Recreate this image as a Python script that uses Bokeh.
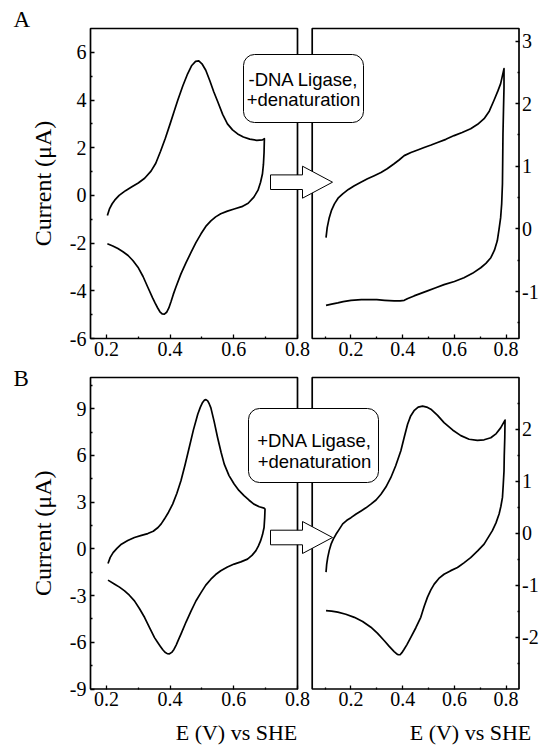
import math
from bokeh.plotting import figure
from bokeh.models import (Range1d, LinearAxis, FixedTicker, BoxAnnotation,
                          Label, PolyAnnotation)
from bokeh.embed import file_html
from bokeh.resources import INLINE

# ---------------- data ----------------
A_LEFT_X = [0.203, 0.210, 0.218, 0.226, 0.240, 0.260, 0.280, 0.300, 0.320, 0.340,
            0.355, 0.370, 0.385, 0.400, 0.412, 0.424, 0.440, 0.455, 0.468, 0.480,
            0.490, 0.500, 0.512, 0.525, 0.537, 0.549, 0.565, 0.580, 0.596, 0.612,
            0.630, 0.650, 0.672, 0.690, 0.696,
            0.695, 0.693, 0.690, 0.684, 0.676, 0.663, 0.645, 0.625, 0.601, 0.580,
            0.559, 0.543, 0.528, 0.512, 0.497, 0.481, 0.466, 0.450, 0.434, 0.418,
            0.410, 0.403, 0.396, 0.389, 0.382, 0.375, 0.368, 0.361, 0.353, 0.345,
            0.330, 0.315, 0.299, 0.283, 0.268, 0.252, 0.236, 0.220, 0.203]
A_LEFT_Y = [-0.84, -0.55, -0.35, -0.20, 0.00, 0.20, 0.36, 0.52, 0.72, 1.02,
            1.35, 1.85, 2.40, 3.00, 3.50, 3.99, 4.60, 5.10, 5.45, 5.62,
            5.64, 5.52, 5.25, 4.80, 4.35, 3.95, 3.40, 3.00, 2.75, 2.58,
            2.45, 2.36, 2.31, 2.33, 2.38,
            1.80, 1.30, 0.91, 0.55, 0.22, -0.07, -0.33, -0.47, -0.57, -0.66,
            -0.77, -0.90, -1.07, -1.30, -1.61, -1.98, -2.38, -2.82, -3.29, -3.85,
            -4.15, -4.45, -4.72, -4.90, -4.98, -4.97, -4.88, -4.72, -4.52, -4.30,
            -3.85, -3.40, -3.01, -2.73, -2.52, -2.36, -2.23, -2.12, -2.03]

A_RIGHT_X = [0.1035, 0.108, 0.116, 0.125, 0.136, 0.150, 0.168, 0.190, 0.213, 0.240,
             0.264, 0.290, 0.316, 0.340, 0.367, 0.386, 0.406, 0.432, 0.458, 0.483,
             0.510, 0.535, 0.567, 0.599, 0.630, 0.663, 0.690, 0.715, 0.735, 0.753,
             0.768, 0.779, 0.792,
             0.792, 0.790, 0.788, 0.787, 0.786, 0.783, 0.779, 0.773, 0.766, 0.755,
             0.741, 0.722, 0.702, 0.670, 0.637, 0.600, 0.560, 0.528, 0.496, 0.470,
             0.444, 0.420, 0.406, 0.390, 0.367, 0.330, 0.300, 0.277, 0.240, 0.200,
             0.170, 0.149, 0.125, 0.1035]
A_RIGHT_Y = [-0.14, 0.02, 0.18, 0.30, 0.40, 0.49, 0.56, 0.63, 0.69, 0.75,
             0.80, 0.85, 0.90, 0.96, 1.04, 1.10, 1.17, 1.22, 1.26, 1.30,
             1.34, 1.38, 1.43, 1.49, 1.54, 1.60, 1.67, 1.76, 1.88, 2.05,
             2.20, 2.32, 2.56,
             2.26, 1.90, 1.52, 1.10, 0.72, 0.40, 0.18, 0.00, -0.19, -0.34,
             -0.46, -0.55, -0.62, -0.71, -0.78, -0.84, -0.89, -0.94, -0.99, -1.03,
             -1.07, -1.11, -1.14, -1.15, -1.15, -1.14, -1.13, -1.13, -1.13, -1.14,
             -1.16, -1.18, -1.20, -1.22]

B_LEFT_X = [0.205, 0.212, 0.221, 0.233, 0.247, 0.267, 0.288, 0.310, 0.330, 0.347,
            0.362, 0.372, 0.382, 0.395, 0.408, 0.421, 0.434, 0.447, 0.460, 0.473,
            0.487, 0.495, 0.502, 0.508, 0.5125, 0.518, 0.523, 0.528, 0.538, 0.549,
            0.560, 0.570, 0.585, 0.601, 0.616, 0.632, 0.648, 0.663, 0.680, 0.695,
            0.698,
            0.697, 0.695, 0.690, 0.684, 0.677, 0.669, 0.657, 0.643, 0.622, 0.601,
            0.580, 0.559, 0.543, 0.528, 0.512, 0.497, 0.481, 0.466, 0.450, 0.434,
            0.426, 0.419, 0.412, 0.405, 0.398, 0.391, 0.384, 0.377, 0.369, 0.360,
            0.351, 0.335, 0.320, 0.304, 0.288, 0.272, 0.257, 0.241, 0.226, 0.205]
B_LEFT_Y = [-0.94, -0.55, -0.24, 0.03, 0.30, 0.53, 0.73, 0.86, 0.98, 1.13,
            1.37, 1.60, 1.91, 2.35, 2.87, 3.55, 4.37, 5.40, 6.51, 7.62,
            8.66, 9.10, 9.40, 9.55, 9.58, 9.50, 9.30, 9.05, 8.20, 7.15,
            6.20, 5.44, 4.70, 4.16, 3.75, 3.41, 3.12, 2.87, 2.70, 2.61,
            2.55,
            2.00, 1.37, 0.90, 0.51, 0.17, -0.13, -0.42, -0.66, -0.84, -0.98,
            -1.17, -1.41, -1.65, -1.95, -2.33, -2.81, -3.35, -3.98, -4.70, -5.48,
            -5.85, -6.18, -6.46, -6.65, -6.74, -6.73, -6.64, -6.48, -6.25, -5.98,
            -5.70, -5.05, -4.41, -3.85, -3.34, -2.98, -2.70, -2.46, -2.27, -2.01]

B_RIGHT_X = [0.1035, 0.106, 0.110, 0.116, 0.123, 0.132, 0.142, 0.155, 0.168, 0.184,
             0.200, 0.220, 0.239, 0.258, 0.277, 0.297, 0.316, 0.335, 0.354, 0.373,
             0.393, 0.406, 0.419, 0.431, 0.444, 0.460, 0.477, 0.493, 0.509, 0.535,
             0.560, 0.593, 0.625, 0.657, 0.689, 0.715, 0.741, 0.762, 0.779, 0.796,
             0.795, 0.793, 0.792, 0.789, 0.786, 0.780, 0.773, 0.761, 0.747, 0.731,
             0.715, 0.690, 0.663, 0.637, 0.612, 0.586, 0.560, 0.540, 0.522, 0.509,
             0.496, 0.483, 0.470, 0.451, 0.432, 0.416, 0.405, 0.397, 0.390, 0.383,
             0.376, 0.367, 0.348, 0.329, 0.303, 0.277, 0.245, 0.213, 0.180, 0.149,
             0.125, 0.1035]
B_RIGHT_Y = [-0.75, -0.60, -0.47, -0.33, -0.21, -0.11, -0.02, 0.08, 0.18, 0.25,
             0.30, 0.37, 0.43, 0.49, 0.56, 0.64, 0.75, 0.89, 1.07, 1.30,
             1.59, 1.85, 2.10, 2.26, 2.36, 2.43, 2.45, 2.43, 2.39, 2.27,
             2.13, 1.99, 1.88, 1.81, 1.79, 1.80, 1.84, 1.92, 2.03, 2.18,
             1.84, 1.50, 1.20, 0.93, 0.69, 0.52, 0.37, 0.20, 0.05, -0.08,
             -0.21, -0.34, -0.47, -0.57, -0.66, -0.72, -0.79, -0.87, -0.98, -1.09,
             -1.23, -1.41, -1.62, -1.82, -2.00, -2.15, -2.24, -2.30, -2.34, -2.34,
             -2.32, -2.28, -2.18, -2.07, -1.93, -1.81, -1.70, -1.62, -1.56, -1.52,
             -1.50, -1.49]

# axis limits
XL_LIM = (0.15, 0.8)
XR_LIM = (0.05, 0.85)
YAL_LIM = (-6, 7)
YAR_LIM = (-1.75, 3.2)
YBL_LIM = (-9, 11)
YBR_LIM = (-3, 3)

# ticks and tick labels
XL_TICKS = [0.2, 0.4, 0.6, 0.8]
XL_LABELS = ["0.2", "0.4", "0.6", "0.8"]
XL_MINOR = [0.3, 0.5, 0.7]
XR_TICKS = [0.2, 0.4, 0.6, 0.8]
XR_LABELS = ["0.2", "0.4", "0.6", "0.8"]
XR_MINOR = [0.1, 0.3, 0.5, 0.7]
YAL_TICKS = [-6, -4, -2, 0, 2, 4, 6]
YAL_LABELS = ["-6", "-4", "-2", "0", "2", "4", "6"]
YAL_MINOR = [-5, -3, -1, 1, 3, 5]
YAR_TICKS = [-1, 0, 1, 2, 3]
YAR_LABELS = ["-1", "0", "1", "2", "3"]
YAR_MINOR = [-1.5, -0.5, 0.5, 1.5, 2.5]
YBL_TICKS = [-9, -6, -3, 0, 3, 6, 9]
YBL_LABELS = ["-9", "-6", "-3", "0", "3", "6", "9"]
YBL_MINOR = [-7.5, -4.5, -1.5, 1.5, 4.5, 7.5, 10.5]
YBR_TICKS = [-2, -1, 0, 1, 2]
YBR_LABELS = ["-2", "-1", "0", "1", "2"]
YBR_MINOR = [-2.5, -1.5, -0.5, 0.5, 1.5, 2.5]

PANEL_LETTERS = ["A", "B"]
BOX_TEXTS = [["-DNA Ligase,", "+denaturation"], ["+DNA Ligase,", "+denaturation"]]
Y_TITLE = "Current (\u03bcA)"
X_TITLE = "E (V) vs SHE"

# ---------------- layout (page pixels) ----------------
W, H = 541, 745
FX0, FX1 = 0, W          # page x of canvas left/right
FY0, FY1 = H, 0          # page y of canvas bottom/top

PX_LEFT = (90, 297)
PX_RIGHT = (311.7, 518.5)
PY_A = (338, 28)
PY_B = (688.5, 377)

SERIF = "Liberation Serif"
SANS = "Liberation Sans"
TXT_DY = -7   # baseline correction for labels


def mapped_range(lim, pix, f0, f1):
    k = (lim[1] - lim[0]) / (pix[1] - pix[0])
    return Range1d(start=lim[0] + (f0 - pix[0]) * k, end=lim[0] + (f1 - pix[0]) * k)


p = figure(width=W, height=H, x_range=Range1d(FX0, FX1), y_range=Range1d(FY0, FY1),
           x_axis_type=None, y_axis_type=None, min_border=0,
           toolbar_location=None, output_backend="svg")
p.outline_line_color = None
p.background_fill_color = "white"
p.border_fill_color = "white"

p.extra_x_ranges = {
    "xl": mapped_range(XL_LIM, PX_LEFT, FX0, FX1),
    "xr": mapped_range(XR_LIM, PX_RIGHT, FX0, FX1),
}
p.extra_y_ranges = {
    "yal": mapped_range(YAL_LIM, PY_A, FY0, FY1),
    "yar": mapped_range(YAR_LIM, PY_A, FY0, FY1),
    "ybl": mapped_range(YBL_LIM, PY_B, FY0, FY1),
    "ybr": mapped_range(YBR_LIM, PY_B, FY0, FY1),
}

AX_STYLE = dict(axis_line_color=None, major_tick_in=4, major_tick_out=0,
                minor_tick_in=2, minor_tick_out=0,
                major_tick_line_color="black", minor_tick_line_color="black",
                major_tick_line_width=1.3, minor_tick_line_width=1.3,
                major_label_text_font=SERIF, major_label_text_font_size="20px",
                major_label_text_color="black")


def panel(xr, yr, xlim, ylim, xt, xlab, xm, yt, ylab, ym, yside, xs, ys):
    xa = LinearAxis(x_range_name=xr, y_range_name=yr, fixed_location=ylim[0],
                    ticker=FixedTicker(ticks=xt, minor_ticks=xm),
                    major_label_overrides=dict(zip(xt, xlab)),
                    major_label_standoff=3, **AX_STYLE)
    p.add_layout(xa, "below")
    yloc = xlim[0] if yside == "left" else xlim[1]
    ya = LinearAxis(x_range_name=xr, y_range_name=yr, fixed_location=yloc,
                    ticker=FixedTicker(ticks=yt, minor_ticks=ym),
                    major_label_overrides=dict(zip(yt, ylab)),
                    major_label_standoff=4 if yside == "left" else 3, **AX_STYLE)
    p.add_layout(ya, yside)
    p.line(xs, ys, x_range_name=xr, y_range_name=yr, line_color="black",
           line_width=1.7, line_join="round")
    frame = BoxAnnotation(left=xlim[0], right=xlim[1], bottom=ylim[0], top=ylim[1],
                          x_range_name=xr, y_range_name=yr, fill_color=None,
                          line_color="black", line_alpha=1.0, line_width=1.7)
    p.add_layout(frame)


panel("xl", "yal", XL_LIM, YAL_LIM, XL_TICKS, XL_LABELS, XL_MINOR,
      YAL_TICKS, YAL_LABELS, YAL_MINOR, "left", A_LEFT_X, A_LEFT_Y)
panel("xr", "yar", XR_LIM, YAR_LIM, XR_TICKS, XR_LABELS, XR_MINOR,
      YAR_TICKS, YAR_LABELS, YAR_MINOR, "right", A_RIGHT_X, A_RIGHT_Y)
panel("xl", "ybl", XL_LIM, YBL_LIM, XL_TICKS, XL_LABELS, XL_MINOR,
      YBL_TICKS, YBL_LABELS, YBL_MINOR, "left", B_LEFT_X, B_LEFT_Y)
panel("xr", "ybr", XR_LIM, YBR_LIM, XR_TICKS, XR_LABELS, XR_MINOR,
      YBR_TICKS, YBR_LABELS, YBR_MINOR, "right", B_RIGHT_X, B_RIGHT_Y)

# annotation boxes and arrows (decoration, page-pixel coordinates)
BOX_GEOM = [dict(l=243, r=363, t=54, b=122, cx=303, base=(85, 105)),
            dict(l=248, r=378, t=408, b=482, cx=314, base=(446, 467))]
ARROW_CY = [181.7, 537]

for geom, lines, cy in zip(BOX_GEOM, BOX_TEXTS, ARROW_CY):
    p.add_layout(BoxAnnotation(left=geom["l"], right=geom["r"], top=geom["t"],
                               bottom=geom["b"], border_radius=11,
                               fill_color="white", fill_alpha=1.0,
                               line_color="black", line_alpha=1.0,
                               line_width=1.0, level="overlay"))
    for txt, by in zip(lines, geom["base"]):
        p.add_layout(Label(x=geom["cx"], y=by - 6, text=txt, text_align="center",
                           text_baseline="alphabetic", text_font=SANS,
                           text_font_size="18.5px", text_color="black",
                           level="overlay"))
    ax = [270, 302, 302, 332, 302, 302, 270]
    ay = [cy - 7.3, cy - 7.3, cy - 16, cy, cy + 16, cy + 7.3, cy + 7.3]
    p.add_layout(PolyAnnotation(xs=ax, ys=ay, fill_color="white", fill_alpha=1.0,
                                line_color="black", line_alpha=1.0,
                                line_width=1.0, level="overlay"))

# panel letters and axis titles
for letter, by in zip(PANEL_LETTERS, (28.5, 387)):
    p.add_layout(Label(x=13, y=by + TXT_DY - 2.5, text=letter, text_font=SERIF,
                       text_font_size="23px", text_align="left",
                       text_baseline="alphabetic", text_color="black"))

for cy in ((PY_A[0] + PY_A[1]) / 2, (PY_B[0] + PY_B[1]) / 2):
    p.add_layout(Label(x=42, y=cy, text=Y_TITLE, angle=math.pi / 2,
                       text_font=SERIF, text_font_size="24px",
                       text_align="center", text_baseline="middle",
                       text_color="black"))

for cx in (236, 470):
    p.add_layout(Label(x=cx, y=740 + TXT_DY - 1, text=X_TITLE, text_font=SERIF,
                       text_font_size="22px", text_align="center",
                       text_baseline="alphabetic", text_color="black"))

open("out.html", "w").write(file_html(p, INLINE))
